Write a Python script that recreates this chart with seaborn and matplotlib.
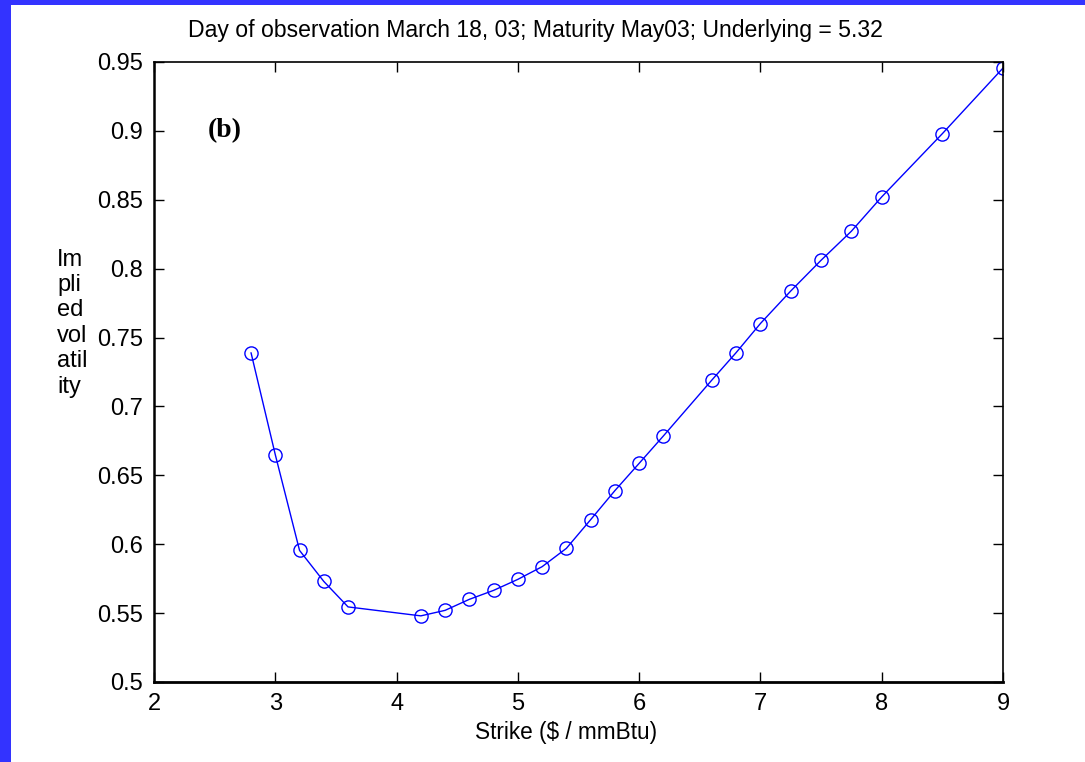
import matplotlib
matplotlib.use("Agg")
import matplotlib.pyplot as plt
import seaborn as sns
import pandas as pd
from matplotlib.patches import Rectangle

# ---- data ----
strike = [2.8, 3.0, 3.2, 3.4, 3.6, 4.2, 4.4, 4.6, 4.8, 5.0, 5.2, 5.4, 5.6, 5.8,
          6.0, 6.2, 6.6, 6.8, 7.0, 7.25, 7.5, 7.75, 8.0, 8.5, 9.0]
implied_vol = [0.739, 0.665, 0.5955, 0.573, 0.5545, 0.548, 0.552, 0.560, 0.5665,
               0.5745, 0.5837, 0.597, 0.6178, 0.6389, 0.6587, 0.6786, 0.7192,
               0.7391, 0.7602, 0.7838, 0.8061, 0.8272, 0.8521, 0.898, 0.9456]
x_ticks = [2, 3, 4, 5, 6, 7, 8, 9]
y_ticks = [0.5, 0.55, 0.6, 0.65, 0.7, 0.75, 0.8, 0.85, 0.9, 0.95]
y_tick_labels = ["0.5", "0.55", "0.6", "0.65", "0.7", "0.75", "0.8", "0.85", "0.9", "0.95"]

title = "Day of observation March 18, 03; Maturity May03; Underlying = 5.32"
xlabel = "Strike ($ / mmBtu)"
ylabel = "Im\npli\ned\nvol\natil\nity"
panel = "(b)"

df = pd.DataFrame({"strike": strike, "vol": implied_vol})

sns.set_theme(style="white")
plt.rcParams["font.family"] = ["Liberation Sans", "DejaVu Sans"]

fig = plt.figure(figsize=(10.85, 7.62), dpi=100)
fig.patch.set_facecolor("white")

# blue frame strips (left and top)
border = "#3333FF"
fig.add_artist(Rectangle((0, 0), 11 / 1085, 1, transform=fig.transFigure,
                         facecolor=border, edgecolor="none", zorder=10))
fig.add_artist(Rectangle((0, 1 - 5 / 762), 1, 5 / 762, transform=fig.transFigure,
                         facecolor=border, edgecolor="none", zorder=10))

ax = fig.add_axes([154 / 1085, 1 - 682 / 762, 849 / 1085, 620 / 762])
ax.set_facecolor("white")

sns.lineplot(data=df, x="strike", y="vol", ax=ax, color="#0000FF",
             linewidth=1.0, marker="o", markersize=9.5, markerfacecolor="none",
             markeredgecolor="#0000FF", markeredgewidth=1.0, sort=False)

ax.set_xlim(2, 9)
ax.set_ylim(0.5, 0.95)
ax.set_xticks(x_ticks)
ax.set_xticklabels([str(t) for t in x_ticks])
ax.set_yticks(y_ticks)
ax.set_yticklabels(y_tick_labels)

ax.tick_params(axis="both", which="both", direction="in", length=7, width=1,
               color="black", labelsize=17, labelcolor="black",
               top=True, right=True, bottom=True, left=True)
ax.tick_params(axis="x", pad=8)
ax.tick_params(axis="y", pad=8)
for s in ax.spines.values():
    s.set_visible(True)
    s.set_color("black")
    s.set_linewidth(1.2)
ax.spines["bottom"].set_linewidth(2)
ax.spines["left"].set_linewidth(1.8)
ax.grid(False)

ax.set_xlabel(xlabel, fontsize=16.3, color="black")
ax.xaxis.set_label_coords((566 - 154) / 849, (682 - 732) / 620)
ax.xaxis.label.set_va("center")

ax.set_ylabel(ylabel, fontsize=17, color="black", rotation=0,
              ha="left", va="center", linespacing=1.2)
ax.yaxis.set_label_coords((57 - 154) / 849, (682 - 323) / 620)

fig.text(535 / 1085, 1 - 31 / 762, title, fontsize=16.6, color="black",
         ha="center", va="center")

ax.text(2.585, 0.9005, panel, fontsize=20, fontweight="bold",
        family=["Liberation Serif", "DejaVu Serif"], ha="center", va="center",
        color="black")

fig.savefig("out.png", dpi=100, facecolor="white")
